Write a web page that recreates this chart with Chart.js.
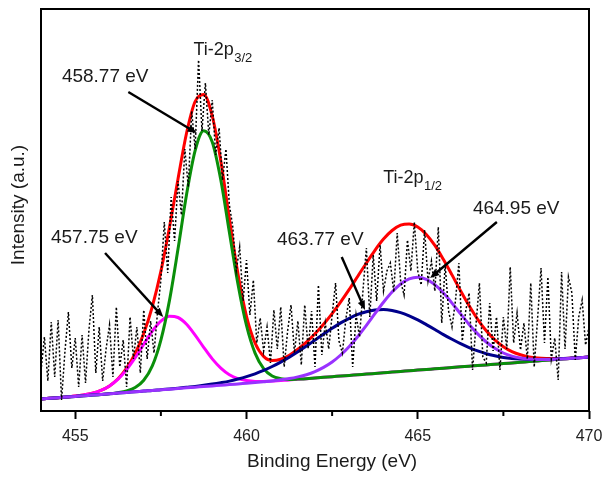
<!DOCTYPE html>
<html>
<head>
<meta charset="utf-8">
<title>Ti 2p XPS</title>
<script src="https://cdn.jsdelivr.net/npm/chart.js@4.4.1/dist/chart.umd.min.js"></script>
<style>
  body { margin: 0; background: #fff; }
  canvas { display: block; }
</style>
</head>
<body>
<canvas id="xpsChart" width="604" height="479"></canvas>
<script>
// raw scan, one reading every 0.1 eV starting at 454 eV
const scanStart = 454;
const scanStep = 0.1;
const counts = [
  40, 74, 30, 89, 34, 91, 11, 60, 99, 43,
  73, 24, 76, 28, 81, 116, 38, 84, 30, 62,
  86, 34, 104, 44, 71, 24, 94, 52, 84, 38,
  101, 52, 90, 58, 98, 131, 189, 138, 214, 170,
  230, 196, 262, 224, 300, 262, 351, 280, 328, 276,
  311, 256, 283, 231, 262, 206, 184, 140, 164, 110,
  151, 96, 131, 68, 93, 60, 84, 48, 101, 62,
  104, 44, 80, 106, 58, 90, 46, 106, 62, 100,
  44, 126, 56, 88, 62, 96, 128, 70, 58, 92,
  113, 44, 96, 74, 120, 163, 94, 156, 110, 166,
  120, 140, 148, 119, 178, 130, 116, 171, 140, 189,
  140, 126, 181, 130, 150, 120, 184, 88, 146, 100,
  84, 110, 148, 70, 100, 118, 41, 86, 128, 54,
  48, 108, 60, 94, 41, 94, 62, 144, 68, 98,
  61, 88, 52, 128, 44, 93, 143, 68, 134, 52,
  73, 31, 139, 62, 134, 118, 51, 94, 111, 66,
  84
];

// peak fit (components sit on the linear background), every 0.25 eV
const fitEnergy = [
  454, 454.25, 454.5, 454.75, 455, 455.25, 455.5, 455.75, 456, 456.25,
  456.5, 456.75, 457, 457.25, 457.5, 457.75, 458, 458.25, 458.5, 458.75,
  459, 459.25, 459.5, 459.75, 460, 460.25, 460.5, 460.75, 461, 461.25,
  461.5, 461.75, 462, 462.25, 462.5, 462.75, 463, 463.25, 463.5, 463.75,
  464, 464.25, 464.5, 464.75, 465, 465.25, 465.5, 465.75, 466, 466.25,
  466.5, 466.75, 467, 467.25, 467.5, 467.75, 468, 468.25, 468.5, 468.75,
  469, 469.25, 469.5, 469.75, 470
];
const fitTotal = [
  12.0, 12.7, 13.3, 14.1, 14.9, 16.1, 17.8, 20.6, 25.1, 32.2,
  42.8, 57.5, 77.6, 104.4, 139.6, 183.5, 232.0, 278.0, 309.5, 316.5,
  295.0, 250.0, 192.2, 137.2, 94.7, 68.0, 54.6, 50.4, 51.7, 55.8,
  61.8, 68.9, 77.3, 86.8, 97.4, 109.1, 121.6, 134.8, 148.0, 160.7,
  171.9, 180.5, 185.8, 187.0, 184.0, 176.6, 165.6, 151.5, 136.1, 120.2,
  105.2, 91.7, 80.2, 71.1, 64.2, 59.4, 56.2, 54.1, 53.0, 52.5,
  52.4, 52.6, 53.0, 53.4, 54.1
];
const fit45877 = [
  12.0, 12.7, 13.3, 14.0, 14.6, 15.3, 15.9, 16.6, 17.3, 18.3,
  20.0, 23.4, 30.7, 45.1, 70.9, 110.4, 161.9, 216.5, 260.4, 280.3,
  269.0, 231.1, 178.8, 127.0, 85.5, 57.9, 42.4, 35.0, 32.3, 31.6,
  31.9, 32.3, 33.0, 33.7, 34.3, 35.0, 35.6, 36.3, 36.9, 37.6,
  38.3, 38.9, 39.6, 40.2, 40.9, 41.5, 42.2, 42.8, 43.5, 44.2,
  44.8, 45.5, 46.1, 46.8, 47.4, 48.1, 48.8, 49.4, 50.1, 50.7,
  51.4, 52.0, 52.7, 53.3, 54.0
];
const fit45775 = [
  12.0, 12.7, 13.3, 14.1, 14.9, 16.1, 17.8, 20.6, 25.1, 31.8,
  41.4, 53.3, 66.8, 79.8, 89.8, 94.7, 93.5, 86.7, 75.9, 63.7,
  52.1, 42.9, 36.3, 32.4, 30.4, 29.6, 29.6, 29.9, 30.5, 31.0,
  31.7, 32.3, 33.0, 33.7, 34.3, 35.0, 35.6, 36.3, 36.9, 37.6,
  38.3, 38.9, 39.6, 40.2, 40.9, 41.5, 42.2, 42.8, 43.5, 44.2,
  44.8, 45.5, 46.1, 46.8, 47.4, 48.1, 48.8, 49.4, 50.1, 50.7,
  51.4, 52.0, 52.7, 53.3, 54.0
];
const fit46377 = [
  12.0, 12.7, 13.3, 14.0, 14.6, 15.3, 15.9, 16.6, 17.3, 17.9,
  18.6, 19.2, 19.9, 20.5, 21.3, 22.0, 22.8, 23.7, 24.6, 25.7,
  26.9, 28.3, 29.9, 32.0, 34.4, 37.2, 40.6, 44.5, 48.9, 53.8,
  59.2, 64.9, 70.9, 76.9, 82.7, 88.1, 92.7, 96.6, 99.3, 101.0,
  101.5, 100.5, 98.4, 95.1, 91.1, 86.4, 81.5, 76.4, 71.7, 67.3,
  63.4, 60.1, 57.3, 55.2, 53.6, 52.6, 52.0, 51.6, 51.6, 51.7,
  52.0, 52.4, 52.9, 53.4, 54.1
];
const fit46495 = [
  12.0, 12.7, 13.3, 14.0, 14.6, 15.3, 15.9, 16.6, 17.3, 17.9,
  18.6, 19.2, 19.9, 20.5, 21.2, 21.8, 22.5, 23.2, 23.8, 24.5,
  25.1, 25.8, 26.4, 27.1, 27.8, 28.5, 29.3, 30.1, 31.2, 32.4,
  34.1, 36.3, 39.4, 43.6, 49.0, 56.0, 64.5, 74.5, 85.6, 97.3,
  108.7, 118.9, 127.0, 132.1, 133.8, 131.7, 126.3, 117.9, 107.9, 97.1,
  86.6, 77.1, 69.0, 62.7, 58.0, 54.9, 53.0, 51.9, 51.5, 51.5,
  51.8, 52.2, 52.8, 53.3, 54.0
];

const xTicks = [455, 460, 465, 470];
const xMinorTicks = [457.5, 462.5, 467.5];

// callouts, positioned in data units (eV, intensity)
const peakLabels = [
  { text: '458.77 eV', x: 454.61, y: 329 },
  { text: '457.75 eV', x: 454.29, y: 168 },
  { text: '463.77 eV', x: 460.89, y: 166 },
  { text: '464.95 eV', x: 466.61, y: 197 }
];
const arrows = [
  { from: [456.55, 319], to: [458.55, 278] },
  { from: [455.87, 158], to: [457.57, 94] },
  { from: [462.78, 154], to: [463.46, 101] },
  { from: [467.31, 189], to: [465.36, 133] }
];
const levelLabels = [
  { main: 'Ti-2p', sub: '3/2', x: 458.45, y: 356 },
  { main: 'Ti-2p', sub: '1/2', x: 463.99, y: 228 }
];

const FONT = "'Liberation Sans', Arial, sans-serif";
Chart.defaults.font.family = FONT;

const pts = (xs, ys) => ys.map((v, i) => ({ x: xs[i], y: v }));
const scanPts = counts.map((c, i) => ({ x: scanStart + i * scanStep, y: c }));

function fitLine(values, color) {
  return {
    data: pts(fitEnergy, values),
    borderColor: color,
    borderWidth: 3,
    pointRadius: 0,
    cubicInterpolationMode: 'monotone',
    fill: false
  };
}

function drawArrow(ctx, x1, y1, x2, y2) {
  const ang = Math.atan2(y2 - y1, x2 - x1);
  const head = 10;
  ctx.beginPath();
  ctx.moveTo(x1, y1);
  ctx.lineTo(x2 - Math.cos(ang) * head * 0.7, y2 - Math.sin(ang) * head * 0.7);
  ctx.stroke();
  ctx.beginPath();
  ctx.moveTo(x2, y2);
  ctx.lineTo(x2 - head * Math.cos(ang - 0.38), y2 - head * Math.sin(ang - 0.38));
  ctx.lineTo(x2 - head * Math.cos(ang + 0.38), y2 - head * Math.sin(ang + 0.38));
  ctx.closePath();
  ctx.fill();
}

const decorations = {
  id: 'decorations',
  afterDraw(chart) {
    const { ctx, chartArea: a, scales: { x, y } } = chart;
    ctx.save();
    ctx.strokeStyle = '#000';
    ctx.fillStyle = '#000';

    // box round the plot
    ctx.lineWidth = 2;
    ctx.strokeRect(a.left, a.top, a.right - a.left, a.bottom - a.top);

    // minor ticks
    xMinorTicks.forEach(v => {
      const px = x.getPixelForValue(v);
      ctx.beginPath();
      ctx.moveTo(px, a.bottom);
      ctx.lineTo(px, a.bottom + 5);
      ctx.stroke();
    });

    ctx.lineWidth = 2.4;
    arrows.forEach(ar => {
      drawArrow(ctx,
        x.getPixelForValue(ar.from[0]), y.getPixelForValue(ar.from[1]),
        x.getPixelForValue(ar.to[0]), y.getPixelForValue(ar.to[1]));
    });

    ctx.fillStyle = '#1a1a1a';
    ctx.textBaseline = 'alphabetic';
    ctx.textAlign = 'left';
    ctx.font = '19px ' + FONT;
    peakLabels.forEach(l => {
      ctx.fillText(l.text, x.getPixelForValue(l.x), y.getPixelForValue(l.y));
    });

    levelLabels.forEach(l => {
      const px = x.getPixelForValue(l.x);
      const py = y.getPixelForValue(l.y);
      ctx.font = '18px ' + FONT;
      ctx.fillText(l.main, px, py);
      const w = ctx.measureText(l.main).width;
      ctx.font = '13px ' + FONT;
      ctx.fillText(l.sub, px + w + 0.5, py + 7);
    });

    // axis titles
    ctx.font = '19px ' + FONT;
    ctx.textAlign = 'center';
    ctx.fillText('Binding Energy (eV)', x.getPixelForValue(462.5), a.bottom + 56);
    ctx.translate(19, y.getPixelForValue(206));
    ctx.rotate(-Math.PI / 2);
    ctx.textBaseline = 'middle';
    ctx.fillText('Intensity (a.u.)', 0, 0);
    ctx.restore();
  }
};

new Chart(document.getElementById('xpsChart'), {
  type: 'line',
  data: {
    datasets: [
      {
        data: scanPts,
        borderColor: '#000',
        borderWidth: 1.5,
        borderDash: [2, 2],
        pointRadius: 0,
        tension: 0,
        fill: false
      },
      fitLine(fit46495, '#9932ff'),
      fitLine(fit46377, '#00008b'),
      fitLine(fit45877, '#0a8f0a'),
      fitLine(fit45775, '#ff00ff'),
      fitLine(fitTotal, '#ff0000')
    ]
  },
  plugins: [decorations],
  options: {
    responsive: false,
    devicePixelRatio: 1,
    animation: false,
    layout: { padding: { top: 9, right: 15, left: 0, bottom: 0 } },
    plugins: {
      legend: { display: false },
      tooltip: { enabled: false }
    },
    scales: {
      x: {
        type: 'linear',
        min: 454,
        max: 470,
        afterBuildTicks: scale => { scale.ticks = xTicks.map(v => ({ value: v })); },
        afterFit: scale => {
          scale.height = 68;
          // let the "470" label run past the frame instead of shrinking the plot
          scale.paddingLeft = 0;
          scale.paddingRight = 0;
        },
        border: { display: false },
        grid: {
          drawOnChartArea: false,
          drawTicks: true,
          tickLength: 8,
          tickWidth: 2,
          tickColor: '#000'
        },
        ticks: {
          padding: 8,
          color: '#222',
          font: { size: 16 },
          maxRotation: 0
        }
      },
      y: {
        min: 0,
        max: 402,
        afterFit: scale => { scale.width = 41; },
        border: { display: false },
        grid: { display: false },
        ticks: { display: false }
      }
    }
  }
});
</script>
</body>
</html>
